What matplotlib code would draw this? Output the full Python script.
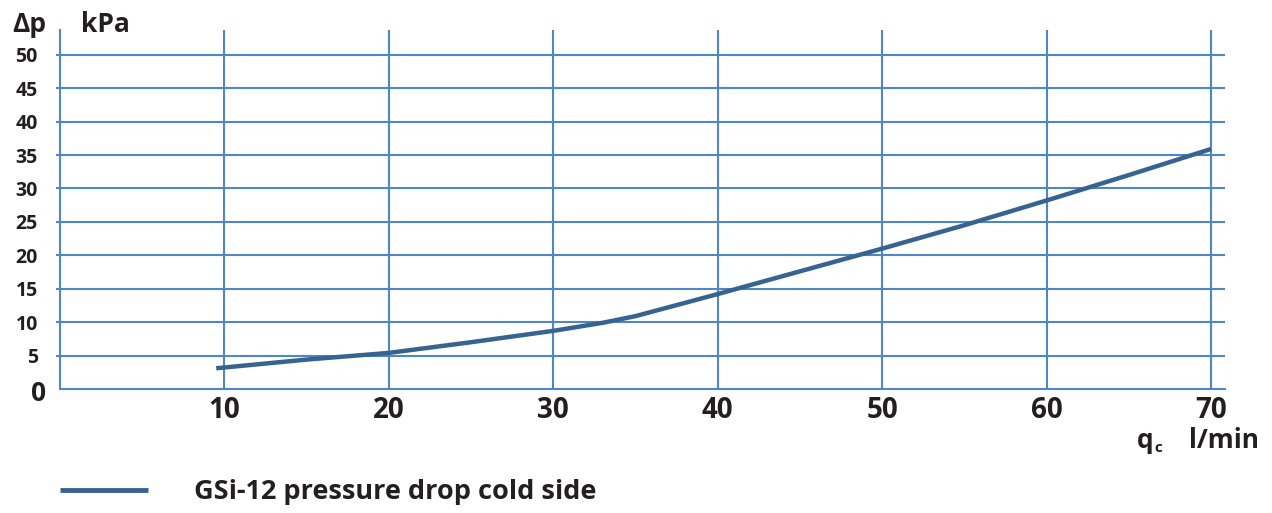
import matplotlib
matplotlib.use("Agg")
import matplotlib.pyplot as plt

# Pressure drop curve (cold side)
flow_lpm = [9.5, 15, 20, 25, 30, 33, 35, 40, 45, 50, 55, 60, 65, 70]
dp_kpa = [3.1, 4.4, 5.4, 7.0, 8.7, 9.9, 10.9, 14.2, 17.6, 21.0, 24.5, 28.2, 32.0, 35.9]

x_ticks = [10, 20, 30, 40, 50, 60, 70]
y_ticks = [5, 10, 15, 20, 25, 30, 35, 40, 45, 50]
series_label = "GSi-12 pressure drop cold side"

GRID = "#4f86c6"
CURVE = "#366390"
TEXT = "#231f20"
FONT = "Open Sans"
WEIGHT = "bold"

W, H = 1272, 513
fig = plt.figure(figsize=(W / 100, H / 100), dpi=100)
ax = fig.add_axes([60 / W, 1 - 389 / H, (1225 - 60) / W, (389 - 30) / H])

ax.set_xlim(0, 70.85)
ax.set_ylim(0, 53.7)

ax.set_xticks(x_ticks)
ax.set_yticks(y_ticks)
ax.set_xticklabels([str(t) for t in x_ticks], fontsize=20, fontweight=WEIGHT,
                   color=TEXT, family=FONT)
ax.set_yticklabels([str(t) for t in y_ticks], fontsize=14, fontweight=WEIGHT,
                   color=TEXT, family=FONT)
ax.tick_params(axis="x", length=0, pad=5)
ax.tick_params(axis="y", length=3, width=1.5, color=GRID, pad=13)

ax.grid(True, color=GRID, linewidth=1.5)
ax.set_axisbelow(True)
for side in ("top", "right"):
    ax.spines[side].set_visible(False)
for side in ("left", "bottom"):
    ax.spines[side].set_color(GRID)
    ax.spines[side].set_linewidth(1.5)

ax.plot(flow_lpm, dp_kpa, color=CURVE, linewidth=3.2, solid_capstyle="butt",
        label=series_label, zorder=3)

# Zero label at the origin, larger than the other y labels
ax.text(-0.012, -0.6, "0", transform=ax.get_yaxis_transform(), ha="right",
        va="center", fontsize=19, fontweight=WEIGHT, color=TEXT, family=FONT)

# Axis titles
fig.text(12 / W, 1 - 25 / H, "Δp", ha="left", va="center", fontsize=19,
         fontweight=WEIGHT, color=TEXT, family=FONT)
fig.text(81 / W, 1 - 25 / H, "kPa", ha="left", va="center", fontsize=19,
         fontweight=WEIGHT, color=TEXT, family=FONT)
fig.text(1137 / W, 1 - 440 / H, "q", ha="left", va="center", fontsize=19,
         fontweight=WEIGHT, color=TEXT, family=FONT)
fig.text(1154 / W, 1 - 448 / H, "c", ha="left", va="center", fontsize=11,
         fontweight=WEIGHT, color=TEXT, family=FONT)
fig.text(1259 / W, 1 - 440 / H, "l/min", ha="right", va="center", fontsize=19,
         fontweight=WEIGHT, color=TEXT, family=FONT)

# Legend
leg = fig.legend(loc="center left", bbox_to_anchor=(60 / W, 1 - 492 / H),
                 frameon=False, borderaxespad=0, borderpad=0,
                 handlelength=3.25, handletextpad=1.7,
                 prop={"family": FONT, "weight": WEIGHT, "size": 19.5})
for line in leg.get_lines():
    line.set_linewidth(3.5)
for t in leg.get_texts():
    t.set_color(TEXT)

fig.savefig("out.png", dpi=100)
